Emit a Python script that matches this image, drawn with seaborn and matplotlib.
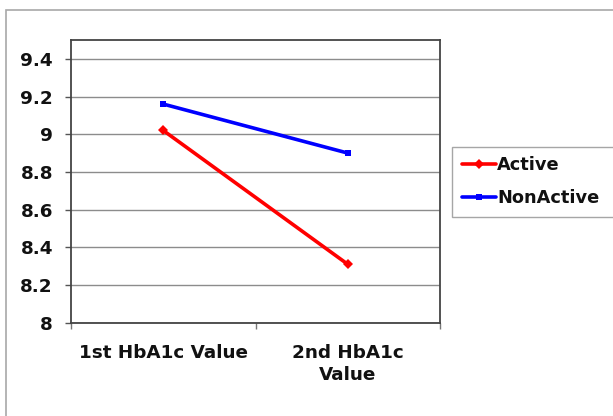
import pandas as pd
import matplotlib
matplotlib.use("Agg")
import matplotlib.pyplot as plt
import seaborn as sns
from matplotlib.patches import Rectangle
from matplotlib.ticker import FixedLocator

# Data
visits = ["1st HbA1c Value", "2nd HbA1c\nValue"]
active = [9.02, 8.31]
non_active = [9.16, 8.90]
yticks = [8, 8.2, 8.4, 8.6, 8.8, 9, 9.2, 9.4]
ytick_labels = ["8", "8.2", "8.4", "8.6", "8.8", "9", "9.2", "9.4"]

df = pd.DataFrame({
    "Visit": visits * 2,
    "HbA1c": active + non_active,
    "Group": ["Active"] * 2 + ["NonActive"] * 2,
})

sns.set_style("white")
plt.rcParams["font.family"] = ["DejaVu Sans"]
plt.rcParams["font.weight"] = "bold"

fig = plt.figure(figsize=(6.13, 4.16), dpi=100)
ax = fig.add_axes([71 / 613, 1 - 322.7 / 416, (440 - 71) / 613, (322.7 - 40) / 416])

# outer chart-area border (clipped at right and bottom like the original)
fig.patches.append(Rectangle((6 / 613, -0.05), 1.2, 1 - 10 / 416 + 0.05,
                             transform=fig.transFigure, fill=False,
                             edgecolor="#a8a8a8", linewidth=1.2))

palette = {"Active": "#ff0000", "NonActive": "#0000ff"}
markers = {"Active": "D", "NonActive": "s"}
sns.lineplot(data=df, x="Visit", y="HbA1c", hue="Group", style="Group",
             palette=palette, markers=markers, dashes=False, linewidth=2.6,
             markersize=5, markeredgewidth=0, ax=ax, sort=False)

ax.set_xlim(-0.5, 1.5)
ax.set_ylim(8, 9.5)
ax.set_yticks(yticks)
ax.set_yticklabels(ytick_labels)
ax.yaxis.grid(True, color="#8c8c8c", linewidth=1)
ax.set_axisbelow(True)
ax.set_xlabel("")
ax.set_ylabel("")

ax.tick_params(axis="y", which="major", length=4.5, width=1, color="#555555",
               labelsize=13.2, pad=8.5, left=True)
ax.tick_params(axis="x", which="major", length=0, labelsize=13.2, pad=15)
ax.xaxis.set_minor_locator(FixedLocator([-0.5, 0.5, 1.5]))
ax.tick_params(axis="x", which="minor", length=4.5, width=1, color="#777777",
               bottom=True)
for lab in ax.get_xticklabels() + ax.get_yticklabels():
    lab.set_fontweight("bold")
    lab.set_color("#111111")
for lab in ax.get_xticklabels():
    lab.set_linespacing(1.35)

for side in ["left", "right", "top", "bottom"]:
    ax.spines[side].set_visible(True)
    ax.spines[side].set_color("#444444")
    ax.spines[side].set_linewidth(1.3)

ax.legend_.remove()
handles, labels = ax.get_legend_handles_labels()
leg = fig.legend(handles, labels, loc="upper left",
                 bbox_to_anchor=(452 / 613, 1 - 146.5 / 416, 0.3, 0),
                 mode="expand",
                 frameon=True, fancybox=False, edgecolor="#909090",
                 fontsize=12.8, handlelength=1.9, handletextpad=0.1,
                 borderpad=0.55, labelspacing=0.85, borderaxespad=0)
leg.get_frame().set_linewidth(1)
for t in leg.get_texts():
    t.set_fontweight("bold")
    t.set_color("#111111")

fig.savefig("out.png", dpi=100)
